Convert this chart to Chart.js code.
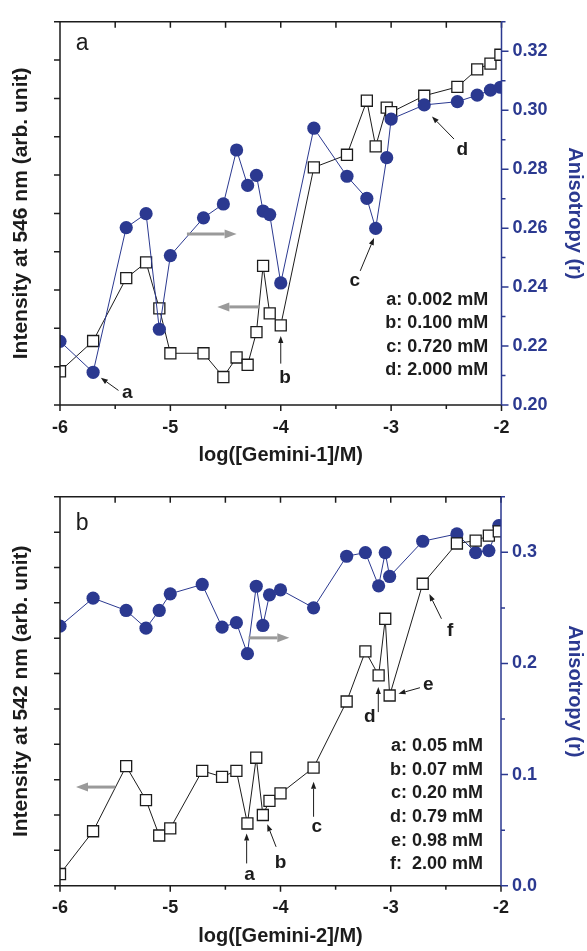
<!DOCTYPE html>
<html lang="en">
<head>
    <meta charset="UTF-8">
    <title>Gemini-1 / Gemini-2</title>
    <script src="https://cdn.jsdelivr.net/npm/chart.js"></script>
    <style>
        body { margin: 0; background: #fff; }
        #painel { position: relative; width: 587px; height: 951px; }
        #painel canvas { position: absolute; left: 0; }
    </style>
</head>
<body>
<div id="painel">
    <canvas id="chartA" width="587" height="475" style="top:0"></canvas>
    <canvas id="chartB" width="587" height="476" style="top:475px"></canvas>
</div>
<script>
// panel a : Gemini-1
var logA = [-6.0, -5.7, -5.4, -5.22, -5.1, -5.0, -4.7, -4.52, -4.4, -4.3, -4.22, -4.16, -4.1, -4.0,
            -3.7, -3.4, -3.22, -3.14, -3.04, -3.0, -2.7, -2.4, -2.22, -2.1, -2.01];
var intensityA = [0.88, 1.67, 3.31, 3.72, 2.52, 1.35, 1.35, 0.73, 1.24, 1.05, 1.90, 3.63, 2.39, 2.08,
                  6.20, 6.53, 7.94, 6.75, 7.76, 7.64, 8.07, 8.30, 8.76, 8.91, 9.14];
var anisoA = [0.2216, 0.2111, 0.2602, 0.2649, 0.2257, 0.2507, 0.2635, 0.2682, 0.2865, 0.2745, 0.2779, 0.2658, 0.2646, 0.2414,
              0.2939, 0.2776, 0.2701, 0.2599, 0.2839, 0.2970, 0.3018, 0.3029, 0.3051, 0.3068, 0.3078];

// panel b : Gemini-2
var logB = [-6.0, -5.7, -5.4, -5.22, -5.1, -5.0, -4.71, -4.53, -4.4, -4.3, -4.22, -4.16, -4.1, -4.0,
            -3.7, -3.4, -3.23, -3.11, -3.05, -3.01, -2.71, -2.4, -2.23, -2.11, -2.02];
var intensityB = [0.33, 1.54, 3.38, 2.42, 1.42, 1.62, 3.25, 3.08, 3.25, 1.76, 3.62, 2.00, 2.40, 2.61,
                  3.34, 5.21, 6.63, 5.95, 7.55, 5.38, 8.54, 9.68, 9.76, 9.90, 10.02];
var anisoB = [0.2336, 0.2588, 0.2477, 0.2318, 0.2477, 0.2627, 0.2711, 0.2327, 0.2367, 0.2088, 0.2695, 0.2342, 0.2618, 0.2663,
              0.2501, 0.2965, 0.2998, 0.2699, 0.2998, 0.2783, 0.3100, 0.3166, 0.2998, 0.3016, 0.3241];

// tick labels
var xTicks = [-6, -5, -4, -3, -2];
var rightTicksA = [0.20, 0.22, 0.24, 0.26, 0.28, 0.30, 0.32];
var rightTicksB = [0.0, 0.1, 0.2, 0.3];

// concentration lists printed inside the plots
var concA = ['a: 0.002 mM', 'b: 0.100 mM', 'c: 0.720 mM', 'd: 2.000 mM'];
var concB = ['a: 0.05 mM', 'b: 0.07 mM', 'c: 0.20 mM', 'd: 0.79 mM', 'e: 0.98 mM', 'f:  2.00 mM'];

var azul = '#2b3990';
var preto = '#1c1c1c';
var fonte = '"Liberation Sans", Arial, sans-serif';

// annotations, placed in data units (x = log value, y = left axis)
var notasA = {
    letra: { t: 'a', x: -5.80, y: 9.44 },
    lista: { linhas: concA, x: -2.12, y: [2.73, 2.13, 1.52, 0.92] },
    setas: [
        { t: 'a', tx: -5.39, ty: 0.33, x1: -5.47, y1: 0.38, x2: -5.63, y2: 0.71 },
        { t: 'b', tx: -3.96, ty: 0.72, x1: -4.0, y1: 1.08, x2: -4.0, y2: 1.80 },
        { t: 'c', tx: -3.33, ty: 3.25, x1: -3.28, y1: 3.50, x2: -3.155, y2: 4.36 },
        { t: 'd', tx: -2.355, ty: 6.66, x1: -2.43, y1: 6.94, x2: -2.63, y2: 7.53 }
    ],
    cinzas: [
        { x1: -4.85, x2: -4.40, y: 4.46 },
        { x1: -4.19, x2: -4.575, y: 2.56 }
    ]
};
var notasB = {
    letra: { t: 'b', x: -5.80, y: 10.23 },
    lista: { linhas: concB, x: -2.163, y: [3.95, 3.27, 2.63, 1.95, 1.27, 0.61] },
    setas: [
        { t: 'a', tx: -4.28, ty: 0.30, x1: -4.307, y1: 0.63, x2: -4.307, y2: 1.48 },
        { t: 'b', tx: -4.0, ty: 0.65, x1: -4.04, y1: 1.10, x2: -4.12, y2: 1.74 },
        { t: 'c', tx: -3.67, ty: 1.67, x1: -3.70, y1: 1.95, x2: -3.70, y2: 2.94 },
        { t: 'd', tx: -3.19, ty: 4.79, x1: -3.113, y1: 4.91, x2: -3.113, y2: 5.62 },
        { t: 'e', tx: -2.66, ty: 5.67, x1: -2.735, y1: 5.60, x2: -2.93, y2: 5.43 },
        { t: 'f', tx: -2.46, ty: 7.22, x1: -2.54, y1: 7.55, x2: -2.65, y2: 8.25 }
    ],
    cinzas: [
        { x1: -4.29, x2: -3.92, y: 7.01 },
        { x1: -5.50, x2: -5.855, y: 2.79 }
    ]
};

function seta(ctx, x1, y1, x2, y2, cab, meia) {
    var ang = Math.atan2(y2 - y1, x2 - x1);
    var bx = x2 - cab * Math.cos(ang), by = y2 - cab * Math.sin(ang);
    ctx.beginPath();
    ctx.moveTo(x1, y1);
    ctx.lineTo(bx, by);
    ctx.stroke();
    ctx.beginPath();
    ctx.moveTo(x2, y2);
    ctx.lineTo(bx + meia * Math.sin(ang), by - meia * Math.cos(ang));
    ctx.lineTo(bx - meia * Math.sin(ang), by + meia * Math.cos(ang));
    ctx.closePath();
    ctx.fill();
}

// frame, tick marks and text annotations
var notasPlugin = {
    id: 'notas',
    afterDatasetsDraw: function (chart, args, opts) {
        var ctx = chart.ctx;
        var sx = chart.scales.x, sy = chart.scales.y, sr = chart.scales.y1;
        var a = chart.chartArea;
        ctx.save();

        ctx.lineWidth = 1.5;
        ctx.strokeStyle = preto;
        ctx.beginPath();
        ctx.moveTo(a.left, a.bottom); ctx.lineTo(a.left, a.top); ctx.lineTo(a.right, a.top);
        ctx.moveTo(a.left, a.bottom); ctx.lineTo(a.right, a.bottom);
        for (var v = sx.min; v <= sx.max + 1e-9; v += 0.5) {
            var px = sx.getPixelForValue(v);
            var maior = Math.abs(v - Math.round(v)) < 1e-9;
            ctx.moveTo(px, a.bottom); ctx.lineTo(px, a.bottom + (maior ? 6 : 4));
            ctx.moveTo(px, a.top); ctx.lineTo(px, a.top + 6);
        }
        sy.ticks.forEach(function (t) {
            var py = sy.getPixelForValue(t.value);
            ctx.moveTo(a.left - 6, py); ctx.lineTo(a.left, py);
        });
        ctx.stroke();

        ctx.strokeStyle = azul;
        ctx.beginPath();
        ctx.moveTo(a.right, a.top); ctx.lineTo(a.right, a.bottom);
        sr.ticks.forEach(function (t) {
            var py = sr.getPixelForValue(t.value);
            ctx.moveTo(a.right, py); ctx.lineTo(a.right + (t.label ? 7 : 4), py);
        });
        ctx.stroke();

        // gray arrows pointing to the axis of each series
        ctx.strokeStyle = '#9a9a9a';
        ctx.fillStyle = '#9a9a9a';
        ctx.lineWidth = 3;
        opts.cinzas.forEach(function (g) {
            var y = sy.getPixelForValue(g.y);
            seta(ctx, sx.getPixelForValue(g.x1), y, sx.getPixelForValue(g.x2), y, 12, 4.5);
        });

        // letter arrows
        ctx.strokeStyle = preto;
        ctx.fillStyle = preto;
        ctx.lineWidth = 1;
        ctx.font = 'bold 19px ' + fonte;
        ctx.textAlign = 'center';
        ctx.textBaseline = 'middle';
        opts.setas.forEach(function (s) {
            seta(ctx, sx.getPixelForValue(s.x1), sy.getPixelForValue(s.y1),
                 sx.getPixelForValue(s.x2), sy.getPixelForValue(s.y2), 7, 2.6);
            ctx.fillText(s.t, sx.getPixelForValue(s.tx), sy.getPixelForValue(s.ty));
        });

        ctx.font = 'bold 18px ' + fonte;
        ctx.textAlign = 'right';
        opts.lista.linhas.forEach(function (l, i) {
            ctx.fillText(l, sx.getPixelForValue(opts.lista.x), sy.getPixelForValue(opts.lista.y[i]));
        });

        ctx.font = '23px ' + fonte;
        ctx.textAlign = 'center';
        ctx.fillText(opts.letra.t, sx.getPixelForValue(opts.letra.x), sy.getPixelForValue(opts.letra.y));
        ctx.restore();
    }
};

function montarPainel(id, p) {
    var quadrados = p.logs.map(function (x, i) { return { x: x, y: p.intensidade[i] }; });
    var bolas = p.logs.map(function (x, i) { return { x: x, y: p.aniso[i] }; });

    var config = {
        type: 'line',
        data: {
            datasets: [{
                data: quadrados,
                yAxisID: 'y',
                borderColor: preto,
                borderWidth: 1,
                pointStyle: 'rect',
                pointRadius: 7.8,
                pointBorderWidth: 1.3,
                pointBackgroundColor: '#fff',
                pointBorderColor: preto,
                clip: 0,
                order: p.quadradosEmCima ? 0 : 1
            }, {
                data: bolas,
                yAxisID: 'y1',
                borderColor: azul,
                borderWidth: 1,
                pointStyle: 'circle',
                pointRadius: 6.6,
                pointBorderWidth: 0,
                pointBackgroundColor: azul,
                clip: 0,
                order: p.quadradosEmCima ? 1 : 0
            }]
        },
        options: {
            responsive: false,
            animation: false,
            layout: { padding: { top: p.topo, left: 0, right: 0, bottom: 0 } },
            plugins: { legend: { display: false }, tooltip: { enabled: false }, notas: p.notas },
            scales: {
                x: {
                    type: 'linear', min: -6, max: -2,
                    afterFit: function (s) { s.height = p.baseX; },
                    grid: { display: false, drawTicks: false },
                    border: { display: false },
                    afterBuildTicks: function (s) { s.ticks = xTicks.map(function (v) { return { value: v }; }); },
                    ticks: { padding: 12, color: preto, font: { family: fonte, size: 18, weight: 'bold' } },
                    title: { display: true, text: p.tituloX, color: preto, padding: { top: 0, bottom: p.padX },
                             font: { family: fonte, size: 20, weight: 'bold' } }
                },
                y: {
                    position: 'left', min: 0, max: p.maxEsq,
                    afterFit: function (s) { s.width = 60; },
                    grid: { display: false, drawTicks: false },
                    border: { display: false },
                    ticks: { display: false, stepSize: 1 },
                    title: { display: true, text: p.tituloY, color: preto, padding: { top: 9, bottom: 0 },
                             font: { family: fonte, size: 21, weight: 'bold' } }
                },
                y1: {
                    position: 'right', min: p.minDir, max: p.maxDir,
                    afterFit: function (s) { s.width = p.largDir; },
                    grid: { display: false, drawTicks: false },
                    border: { display: false },
                    ticks: {
                        stepSize: p.passoDir, padding: 11, color: azul,
                        font: { family: fonte, size: 18, weight: 'bold' },
                        callback: function (v) {
                            var achou = p.rotulosDir.some(function (r) { return Math.abs(r - v) < 1e-6; });
                            return achou ? v.toFixed(p.casas) : '';
                        }
                    },
                    title: { display: true, text: 'Anisotropy (r)', color: azul, padding: { top: 0, bottom: 0 },
                             font: { family: fonte, size: 20, weight: 'bold' } }
                }
            }
        },
        plugins: [notasPlugin]
    };
    return new Chart(document.getElementById(id), config);
}

var chartA = montarPainel('chartA', {
    logs: logA, intensidade: intensityA, aniso: anisoA, notas: notasA,
    topo: 14.7, baseX: 70, padX: 8, largDir: 85.5,
    maxEsq: 10, minDir: 0.20, maxDir: 0.33, passoDir: 0.01, rotulosDir: rightTicksA, casas: 2,
    tituloX: 'log([Gemini-1]/M)', tituloY: 'Intensity at 546 nm (arb. unit)',
    quadradosEmCima: false
});

var chartB = montarPainel('chartB', {
    logs: logB, intensidade: intensityB, aniso: anisoB, notas: notasB,
    topo: 21, baseX: 65.3, padX: 3, largDir: 86,
    maxEsq: 11, minDir: 0, maxDir: 0.35, passoDir: 0.05, rotulosDir: rightTicksB, casas: 1,
    tituloX: 'log([Gemini-2]/M)', tituloY: 'Intensity at 542 nm (arb. unit)',
    quadradosEmCima: true
});
</script>
</body>
</html>
